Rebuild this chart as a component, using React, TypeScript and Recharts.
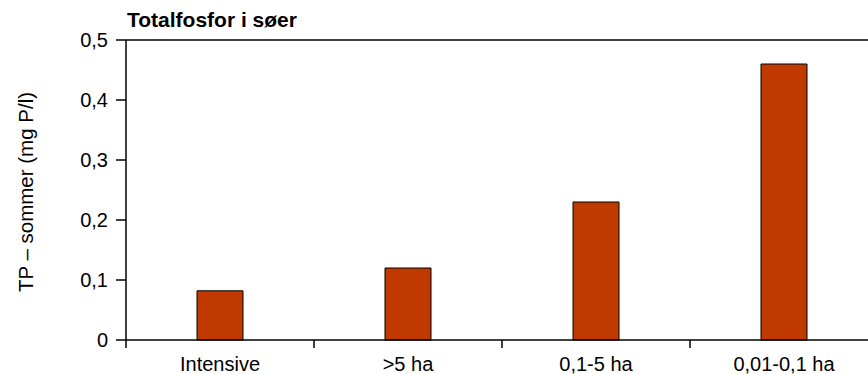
import { BarChart, Bar, XAxis, YAxis, ReferenceLine, Label } from 'recharts'

const categories = ['Intensive', '>5 ha', '0,1-5 ha', '0,01-0,1 ha']
const tpValues = [0.082, 0.12, 0.23, 0.46]
const yTicks = [0, 0.1, 0.2, 0.3, 0.4, 0.5]

const data = categories.map((name, i) => ({ name, tp: tpValues[i] }))

const font = '"Liberation Sans", Arial, Helvetica, sans-serif'
const fmt = (v: number) => (v === 0 ? '0' : v.toFixed(1).replace('.', ','))

// category label plus the separator tick at the left edge of its band
const CategoryTick = (props: any) => {
  const { x, y, payload } = props
  const axisY = y - 17
  const left = x - 94
  return (
    <g>
      <line x1={left} x2={left} y1={axisY} y2={axisY + 8} stroke="#000" strokeWidth={1.5} />
      <text x={x} y={y} dy="0.71em" textAnchor="middle" fill="#000" fontSize={20} fontFamily={font}>
        {payload.value}
      </text>
    </g>
  )
}

export default function App() {
  return (
    <div
      style={{
        position: 'absolute',
        left: 0,
        top: 0,
        width: 868,
        height: 374,
        overflow: 'hidden',
        background: '#fff',
        fontFamily: font,
      }}
    >
      <div
        style={{
          position: 'absolute',
          left: 127,
          top: 6,
          fontSize: 21,
          fontWeight: 'bold',
          color: '#000',
          lineHeight: '28px',
        }}
      >
        Totalfosfor i søer
      </div>
      <BarChart
        width={880}
        height={374}
        data={data}
        margin={{ top: 40, right: 2, bottom: 0, left: 0 }}
        barSize={46}
      >
        <XAxis
          dataKey="name"
          height={34}
          stroke="#000"
          strokeWidth={1.5}
          tickSize={8}
          tickMargin={9}
          tick={<CategoryTick />}
          interval={0}
          tickLine={false}
        />
        <YAxis
          width={126}
          domain={[0, 0.5]}
          ticks={yTicks}
          tickFormatter={fmt}
          stroke="#000"
          strokeWidth={1.5}
          tickSize={10}
          tickMargin={8}
          tick={{ fill: '#000', fontSize: 20, fontFamily: font }}
        >
          <Label
            value="TP – sommer (mg P/l)"
            angle={-90}
            position="center"
            dx={-37}
            dy={2}
            style={{ fill: '#000', fontSize: 20.5, fontFamily: font }}
          />
        </YAxis>
        <ReferenceLine y={0.5} stroke="#000" strokeWidth={1.5} />
        <Bar
          dataKey="tp"
          fill="#C03A00"
          stroke="#000"
          strokeWidth={1}
          isAnimationActive={false}
        />
      </BarChart>
    </div>
  )
}
